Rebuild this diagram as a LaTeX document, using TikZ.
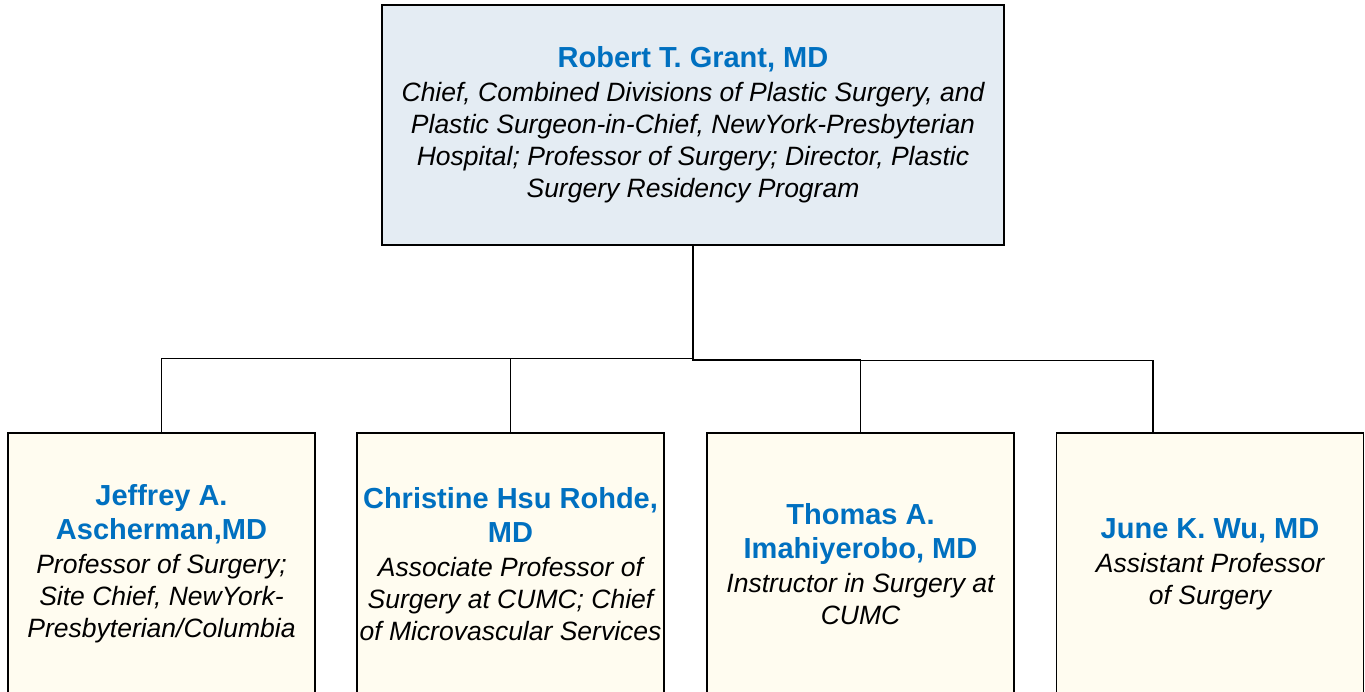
\documentclass[tikz,border=0pt]{standalone}
\usepackage{fontspec}
\setmainfont{Liberation Sans}
\definecolor{ttl}{RGB}{0,112,192}
\definecolor{topfill}{RGB}{228,236,243}
\definecolor{kidfill}{RGB}{255,252,240}
\newcommand{\ttlfont}{\fontsize{29}{34}\selectfont\bfseries\color{ttl}}
\begin{document}
\begin{tikzpicture}[x=1pt,y=1pt,
  box/.style={draw=black,line width=1.5pt,rectangle,align=center,inner sep=0pt,
    font=\fontsize{26.5}{32}\selectfont\itshape},
  topbox/.style={box,fill=topfill,minimum width=622pt,minimum height=240pt},
  kidbox/.style={box,fill=kidfill,minimum width=307pt,minimum height=262pt},
  conn/.style={draw=black,line width=1.5pt}]
\useasboundingbox (0,0) rectangle (1365,-692);
\node[topbox] (top) at (693,-125) {{\ttlfont\upshape Robert T. Grant, MD}\\[2pt]
Chief, Combined Divisions of Plastic Surgery, and\\
Plastic Surgeon-in-Chief, NewYork-Presbyterian\\
Hospital; Professor of Surgery; Director, Plastic\\
Surgery Residency Program};
\node[kidbox] (c1) at (161.5,-564) {{\ttlfont\upshape Jeffrey A.}\\[2pt]
{\ttlfont\upshape Ascherman,MD}\\[2pt]
Professor of Surgery;\\
Site Chief, NewYork-\\
Presbyterian/Columbia};
\node[kidbox] (c2) at (510.5,-564) {{\ttlfont\upshape Christine Hsu Rohde,}\\[2pt]
{\ttlfont\upshape MD}\\[2pt]
Associate Professor of\\
Surgery at CUMC; Chief\\
of Microvascular Services};
\node[kidbox] (c3) at (860.5,-564) {{\ttlfont\upshape Thomas A.}\\[2pt]
{\ttlfont\upshape Imahiyerobo, MD}\\[2pt]
Instructor in Surgery at\\
CUMC};
\node[kidbox] (c4) at (1210,-564) {{\ttlfont\upshape June K. Wu, MD}\\[2pt]
Assistant Professor\\
of Surgery};
\coordinate (c4in) at (1153,-433);
\draw[conn] (top.south) -- ++(0,-113) -| (c1.north);
\draw[conn] (top.south) -- ++(0,-113) -| (c2.north);
\draw[conn] (top.south) -- ++(0,-114) -| (c3.north);
\draw[conn] (top.south) -- ++(0,-115) -| (c4in);
\draw[line width=2.5pt] (top.south) -- ++(0,-114);
\end{tikzpicture}
\end{document}
